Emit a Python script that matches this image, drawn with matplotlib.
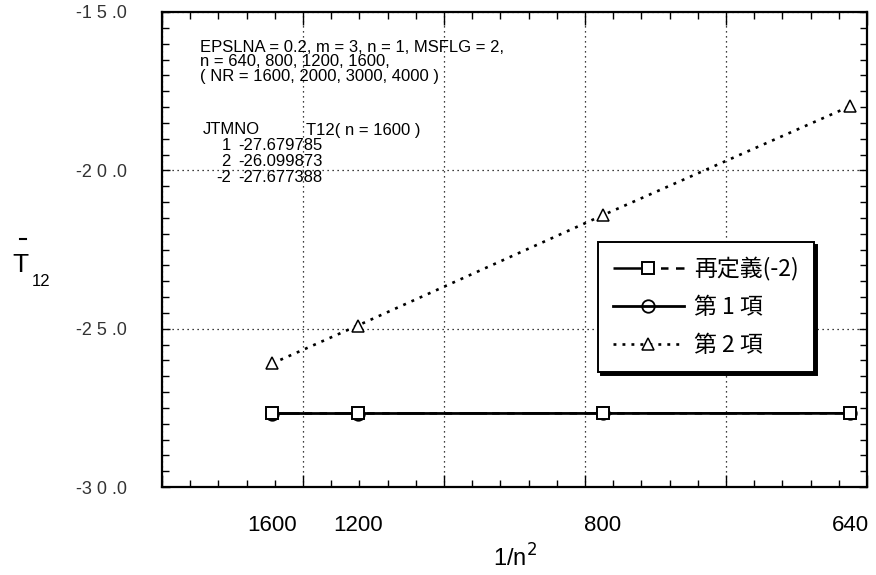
import numpy as np
import matplotlib
matplotlib.use("Agg")
import matplotlib.pyplot as plt
from matplotlib.ticker import MultipleLocator, NullFormatter
from matplotlib.lines import Line2D

plt.rcParams['font.family'] = ['Liberation Sans', 'Noto Sans CJK JP', 'DejaVu Sans']

# mesh sizes and the abscissa 1/n^2
n_values = [1600, 1200, 800, 640]
x_tick_labels = ["1600", "1200", "800", "640"]

# T12 for each formulation
redefined_m2 = [-27.677388, -27.676, -27.674, -27.672]   # 再定義(-2)
term_1 = [-27.679785, -27.679, -27.677, -27.675]        # 第 1 項
term_2 = [-26.099873, -24.90, -21.42, -17.97]            # 第 2 項

series_labels = ["再定義(-2)", "第 1 項", "第 2 項"]

y_ticks = [-30.0, -25.0, -20.0, -15.0]
y_tick_labels = ["-3 0 .0", "-2 5 .0", "-2 0 .0", "-1 5 .0"]

info_lines = [
    "EPSLNA = 0.2, m = 3, n = 1, MSFLG = 2,",
    "n = 640, 800, 1200, 1600,",
    "( NR = 1600, 2000, 3000, 4000 )",
]
table_header = ("JTMNO", "T12( n = 1600 )")
table_index = ["1", "2", "-2"]
table_values = ["-27.679785", "-26.099873", "-27.677388"]

x = 1.0 / np.array(n_values, dtype=float) ** 2

W, H = 876, 575
fig = plt.figure(figsize=(W / 100, H / 100), dpi=100)
L, R, T, B = 162, 867, 12, 487
ax = fig.add_axes([L / W, 1 - B / H, (R - L) / W, (B - T) / H])

ax.set_xlim(0, 2.5e-6)
ax.set_ylim(-30, -15)

# series
ax.plot(x, redefined_m2, color="black", lw=1.8, linestyle=(0, (11, 2, 3, 3, 3, 3)),
        marker="s", ms=9, mfc="white", mec="black", mew=1.4, label=series_labels[0], zorder=3)
ax.plot(x, term_1, color="black", lw=2.0, linestyle="-",
        marker="o", ms=9, mfc="none", mec="black", mew=1.3, label=series_labels[1], zorder=2)
ax.plot(x, term_2, color="black", lw=1.9, linestyle=(0, (1.1, 2.3)),
        marker="^", ms=9, mfc="white", mec="black", mew=1.1, label=series_labels[2], zorder=3)

# frame and ticks
for s in ax.spines.values():
    s.set_linewidth(1.6)
ax.xaxis.set_major_locator(MultipleLocator(5e-7))
ax.xaxis.set_minor_locator(MultipleLocator(1e-7))
ax.yaxis.set_major_locator(MultipleLocator(5))
ax.yaxis.set_minor_locator(MultipleLocator(0.5))
ax.xaxis.set_major_formatter(NullFormatter())
ax.tick_params(which="both", direction="in", top=True, right=True, color="black")
ax.tick_params(which="major", length=9, width=1.0)
ax.tick_params(which="minor", length=5, width=1.0)
ax.tick_params(axis="y", which="major", length=6)
ax.set_yticks(y_ticks)
ax.set_yticklabels(y_tick_labels, fontsize=13, color="#333333")
ax.tick_params(axis="y", pad=25)
ax.grid(True, which="major", color="black", linestyle=(0, (1, 3)), linewidth=0.9)

# n tick labels at 1/n^2
sec = ax.secondary_xaxis("bottom")
sec.set_xticks(x)
sec.set_xticklabels(x_tick_labels, fontsize=16)
sec.tick_params(length=0, pad=20)
sec.spines["bottom"].set_visible(False)

ax.set_xlabel("1/n$^2$", fontsize=17, labelpad=38)
fig.text(20 / W, 1 - 265 / H, "T", fontsize=19, ha="center", va="center")
fig.text(41 / W, 1 - 282 / H, "12", fontsize=12, ha="center", va="center")
fig.add_artist(Line2D([20 / W, 26 / W], [1 - 239 / H, 1 - 239 / H], color="black", lw=1.5))

# parameter block
def fx(px):
    return (px - L) / (R - L)

def fy(py):
    return (B - py) / (B - T)

FS = 12
for py, line in zip([48, 62, 76], info_lines):
    ax.text(fx(200), fy(py), line, fontsize=FS, ha="left", va="center", transform=ax.transAxes)
ax.text(fx(203), fy(130), table_header[0], fontsize=FS, ha="left", va="center", transform=ax.transAxes)
ax.text(fx(306), fy(130), table_header[1], fontsize=FS, ha="left", va="center", transform=ax.transAxes)
for py, idx, val in zip([145, 161, 177], table_index, table_values):
    ax.text(fx(231), fy(py), idx, fontsize=FS, ha="right", va="center", transform=ax.transAxes)
    ax.text(fx(238), fy(py), val, fontsize=FS, ha="left", va="center", transform=ax.transAxes)

leg = ax.legend(loc="upper left", bbox_to_anchor=(fx(598), fy(242)),
                frameon=True, fancybox=False, edgecolor="black", framealpha=1,
                shadow={"color": "black", "alpha": 1.0}, handlelength=3.1,
                borderpad=0.65, labelspacing=0.66, handletextpad=0.45, borderaxespad=0,
                prop={"family": ["Noto Sans CJK JP", "DejaVu Sans"], "size": 16.5})
leg.get_frame().set_linewidth(1.4)

fig.savefig("out.png", dpi=100)
